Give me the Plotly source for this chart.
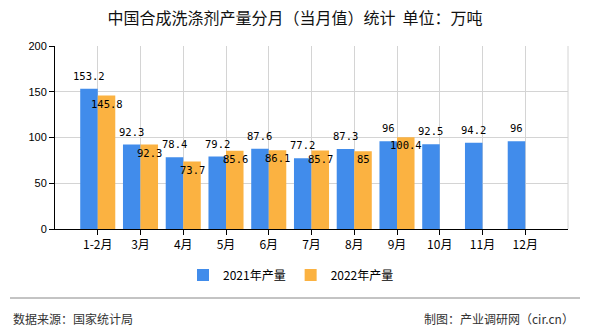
import plotly.graph_objects as go

categories = ["1-2月", "3月", "4月", "5月", "6月", "7月", "8月", "9月", "10月", "11月", "12月"]
values_2021 = [153.2, 92.3, 78.4, 79.2, 87.6, 77.2, 87.3, 96, 92.5, 94.2, 96]
values_2022 = [145.8, 92.3, 73.7, 85.6, 86.1, 85.7, 85, 100.4]
name_2021 = "2021年产量"
name_2022 = "2022年产量"
y_ticks = [0, 50, 100, 150, 200]

W, H = 590, 330
L, R, T, B = 55, 22, 46, 101
pw, ph = W - L - R, H - T - B


def px_x(x):
    return (x - L) / pw


def px_y(y):
    return (H - B - y) / ph


BLUE = "#418CEB"
ORANGE = "#FBB241"
CJK = "Noto Sans CJK SC"
MONO = "DejaVu Sans Mono"

fig = go.Figure()
fig.add_trace(go.Bar(x=categories, y=values_2021, name=name_2021, marker_color=BLUE,
                     marker_line_width=0))
fig.add_trace(go.Bar(x=categories[:len(values_2022)], y=values_2022, name=name_2022,
                     marker_color=ORANGE, marker_line_width=0))

annotations = []
for c, v in zip(categories, values_2021):
    annotations.append(dict(x=c, y=v, xref="x", yref="y", text=f"{v:g}", showarrow=False,
                            xshift=-9, yshift=13, font=dict(family=MONO, size=10.5, color="#000")))
for c, v in zip(categories, values_2022):
    annotations.append(dict(x=c, y=v, xref="x", yref="y", text=f"{v:g}", showarrow=False,
                            xshift=9, yshift=-8, font=dict(family=MONO, size=10.5, color="#000")))

annotations.append(dict(x=px_x(11), y=px_y(318), xref="paper", yref="paper", xanchor="left",
                        yanchor="middle", showarrow=False, text="数据来源：国家统计局",
                        font=dict(family=CJK, size=12, color="#333")))
annotations.append(dict(x=px_x(576), y=px_y(318), xref="paper", yref="paper", xanchor="right",
                        yanchor="middle", showarrow=False, text="制图：产业调研网（cir.cn）",
                        font=dict(family=CJK, size=12, color="#333")))

shapes = [
    dict(type="line", xref="paper", yref="paper", x0=1, x1=1, y0=0, y1=1,
         line=dict(color="#d4d4d4", width=1)),
    dict(type="line", xref="paper", yref="paper", x0=px_x(10), x1=px_x(580),
         y0=px_y(298), y1=px_y(298), line=dict(color="#888", width=1)),
]

fig.update_layout(
    width=W, height=H,
    margin=dict(l=L, r=R, t=T, b=B),
    paper_bgcolor="white", plot_bgcolor="white",
    barmode="group", bargap=0.18, bargroupgap=0,
    title=dict(text="中国合成洗涤剂产量分月（当月值）统计  单位：万吨", x=px_x(295), xref="paper",
               xanchor="center", y=1 - 18 / H, yanchor="middle",
               font=dict(family=CJK, size=16, color="#111")),
    xaxis=dict(type="category", range=[-1, 11], showgrid=True, gridcolor="#d4d4d4",
               showline=True, linecolor="#000", linewidth=1, ticks="outside", ticklen=5,
               tickcolor="#000", tickfont=dict(family=CJK, size=12, color="#000"),
               zeroline=False, fixedrange=True),
    yaxis=dict(range=[0, 200], tickvals=y_ticks, showgrid=True, gridcolor="#d4d4d4",
               showline=True, linecolor="#000", linewidth=1, ticks="outside", ticklen=5,
               tickcolor="#000", tickfont=dict(family="Liberation Sans", size=11, color="#000"),
               zeroline=False, fixedrange=True),
    legend=dict(orientation="h", x=px_x(291), xref="paper", xanchor="center",
                y=px_y(275), yanchor="middle", font=dict(family=CJK, size=12, color="#000"),
                itemwidth=30, traceorder="normal"),
    annotations=annotations,
    shapes=shapes,
    showlegend=True,
)

fig.write_html("out.html")
